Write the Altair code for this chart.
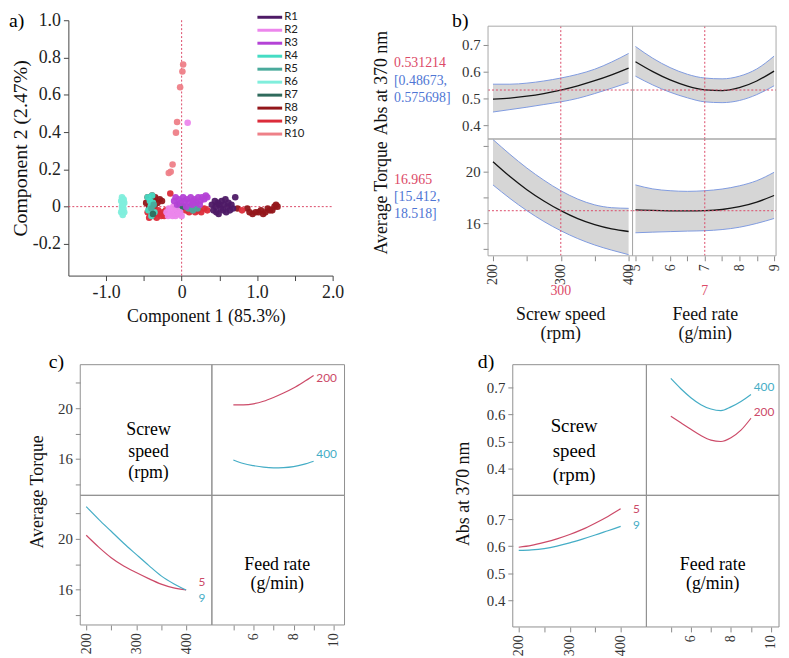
import altair as alt
import pandas as pd

SERIF = "Liberation Serif"
SANS = "Lato"
RED = "#dc4a68"
BLUE = "#4f76d4"
BAND_EDGE = "#7f9be0"
CURVE_RED = "#cc4a68"
CURVE_CYAN = "#45adc6"
FRAME_B = "#a8a8a8"
FRAME_CD = "#909090"
W, H = 781, 650

# ---------------- a) PCA scores ----------------
runs = ["R1", "R2", "R3", "R4", "R5", "R6", "R7", "R8", "R9", "R10"]
run_colors = ["#4e1a66", "#ec86ec", "#b442d6", "#45dcc4", "#4aaa9c", "#80eedc",
              "#2f6a5c", "#93161a", "#dc2c3a", "#ee8088"]
draw_order = ["R6", "R8", "R9", "R4", "R5", "R7", "R2", "R3", "R1", "R10"]

R1_pc1 = [0.40, 0.42, 0.44, 0.45, 0.46, 0.48, 0.49, 0.50, 0.52, 0.53, 0.55, 0.56, 0.58, 0.59, 0.61, 0.62, 0.64, 0.66, 0.68, 0.71]
R1_pc2 = [0.01, -0.02, 0.03, 0.00, -0.03, 0.02, -0.04, 0.01, -0.01, 0.03, -0.02, 0.01, 0.04, -0.03, 0.00, 0.02, -0.02, 0.01, -0.01, 0.05]
R2_pc1 = [-0.20, -0.18, -0.17, -0.15, -0.14, -0.12, -0.11, -0.09, -0.08, -0.06, -0.04, -0.02, 0.00, 0.08]
R2_pc2 = [-0.03, -0.05, -0.01, -0.04, -0.02, -0.05, 0.00, -0.03, -0.05, -0.02, -0.04, -0.03, -0.05, 0.45]
R3_pc1 = [-0.10, -0.08, -0.06, -0.04, -0.01, 0.02, 0.04, 0.07, 0.10, 0.12, 0.15, 0.17, 0.20, 0.22, 0.25, 0.27, 0.30, 0.32, 0.34, 0.06, 0.14, 0.24]
R3_pc2 = [0.03, 0.05, 0.01, 0.04, 0.02, 0.05, 0.03, 0.04, 0.02, 0.05, 0.03, 0.04, 0.02, 0.05, 0.03, 0.05, 0.04, 0.06, 0.05, 0.00, 0.01, 0.01]
R4_pc1 = [-0.45, -0.44, -0.42, -0.41, -0.40, -0.39, -0.38, -0.36]
R4_pc2 = [0.05, -0.02, 0.03, 0.00, -0.05, 0.06, 0.02, -0.03]
R5_pc1 = [-0.40, -0.37, -0.03, 0.09, 0.12, 0.15, 0.18, 0.21]
R5_pc2 = [-0.01, 0.01, -0.01, -0.01, 0.00, -0.02, 0.01, -0.01]
R6_pc1 = [-0.79, -0.77, -0.80, -0.76, -0.79, -0.77, -0.80, -0.76, -0.78, -0.77, -0.79, -0.78]
R6_pc2 = [0.05, 0.04, 0.03, 0.02, 0.00, -0.01, -0.03, -0.03, -0.045, 0.035, -0.02, 0.01]
R7_pc1 = [-0.08, -0.06, -0.05, -0.03, 0.02, -0.38]
R7_pc2 = [-0.01, -0.04, 0.01, -0.03, 0.00, -0.04]
R8_pc1 = [-0.47, -0.45, -0.43, -0.41, -0.39, -0.37, -0.35, -0.32, -0.29, -0.26, -0.43, -0.36,
          0.74, 0.87, 0.90, 0.94, 0.98, 1.02, 1.05, 1.08, 1.11, 1.14, 1.17, 1.20, 1.23, 1.25, 1.27]
R8_pc2 = [0.02, 0.05, -0.01, 0.04, 0.06, 0.03, 0.05, 0.02, 0.04, 0.03, 0.00, 0.00,
          -0.01, -0.01, -0.03, -0.04, -0.03, -0.03, -0.02, -0.04, -0.03, -0.01, -0.02, -0.02, 0.00, 0.01, 0.00]
R9_pc1 = [-0.45, -0.43, -0.41, -0.39, -0.37, -0.35, -0.33, -0.31, -0.29, -0.27, -0.25, -0.23, -0.21, -0.19, -0.15,
          0.05, 0.10, 0.14, 0.18, 0.22, 0.26, 0.30, 0.34, 0.80]
R9_pc2 = [-0.03, -0.06, -0.04, -0.01, -0.05, -0.03, -0.06, -0.02, -0.04, -0.05, -0.03, -0.05, -0.02, -0.04, 0.07,
          -0.02, -0.03, -0.01, -0.03, -0.02, -0.03, -0.01, -0.02, -0.02]
R10_pc1 = [0.02, 0.01, -0.02, -0.06, -0.075, -0.12, -0.145, -0.17]
R10_pc2 = [0.763, 0.725, 0.640, 0.454, 0.397, 0.226, 0.187, 0.180]

scores = {"R1": (R1_pc1, R1_pc2), "R2": (R2_pc1, R2_pc2), "R3": (R3_pc1, R3_pc2),
          "R4": (R4_pc1, R4_pc2), "R5": (R5_pc1, R5_pc2), "R6": (R6_pc1, R6_pc2),
          "R7": (R7_pc1, R7_pc2), "R8": (R8_pc1, R8_pc2), "R9": (R9_pc1, R9_pc2),
          "R10": (R10_pc1, R10_pc2)}

# ---------------- b) prediction profiler ----------------
speed_grid = [200, 225, 250, 275, 300, 325, 350, 375, 400]
feed_grid = [5.0, 5.5, 6.0, 6.5, 7.0, 7.5, 8.0, 8.5, 9.0]
speed_now, feed_now = 300, 7
abs_now, abs_ci = 0.531214, (0.48673, 0.575698)
tq_now, tq_ci = 16.965, (15.412, 18.518)

abs_speed_mean = [0.497, 0.501, 0.508, 0.518, 0.531, 0.547, 0.566, 0.588, 0.613]
abs_speed_lo = [0.449, 0.458, 0.467, 0.477, 0.487, 0.500, 0.518, 0.538, 0.559]
abs_speed_hi = [0.553, 0.553, 0.557, 0.565, 0.576, 0.590, 0.609, 0.636, 0.668]
abs_feed_mean = [0.637, 0.600, 0.569, 0.546, 0.532, 0.529, 0.540, 0.565, 0.602]
abs_feed_lo = [0.583, 0.550, 0.523, 0.502, 0.487, 0.484, 0.492, 0.514, 0.547]
abs_feed_hi = [0.694, 0.650, 0.615, 0.590, 0.576, 0.573, 0.583, 0.610, 0.658]
tq_speed_mean = [20.77, 19.62, 18.60, 17.72, 16.97, 16.35, 15.88, 15.55, 15.35]
tq_speed_lo = [18.97, 17.92, 16.97, 16.13, 15.41, 14.80, 14.30, 13.90, 13.55]
tq_speed_hi = [22.50, 21.35, 20.28, 19.34, 18.52, 17.87, 17.42, 17.20, 17.15]
tq_feed_mean = [17.03, 16.99, 16.96, 16.95, 16.97, 17.06, 17.28, 17.64, 18.15]
tq_feed_lo = [15.25, 15.30, 15.34, 15.38, 15.41, 15.50, 15.68, 15.98, 16.36]
tq_feed_hi = [18.97, 18.66, 18.52, 18.47, 18.52, 18.65, 18.90, 19.30, 19.95]

# ---------------- c) / d) interaction profiles ----------------
tq_feed_s200 = [20.26, 20.27, 20.35, 20.55, 20.85, 21.20, 21.60, 22.08, 22.60]
tq_feed_s400 = [15.90, 15.62, 15.45, 15.33, 15.28, 15.30, 15.38, 15.55, 15.80]
tq_speed_f5 = [20.29, 19.35, 18.51, 17.85, 17.33, 16.85, 16.42, 16.12, 15.95]
tq_speed_f9 = [22.56, 21.55, 20.60, 19.65, 18.77, 17.90, 17.07, 16.45, 15.95]
abs_feed_s400 = [0.733, 0.695, 0.662, 0.636, 0.620, 0.614, 0.628, 0.648, 0.674]
abs_feed_s200 = [0.593, 0.569, 0.545, 0.522, 0.505, 0.500, 0.514, 0.542, 0.586]
abs_speed_f5 = [0.596, 0.603, 0.614, 0.627, 0.643, 0.662, 0.685, 0.710, 0.738]
abs_speed_f9 = [0.584, 0.586, 0.591, 0.600, 0.612, 0.626, 0.641, 0.657, 0.673]

# ---------------- layout: (domain, pixel range) per panel axis ----------------
A_X = ((-1.5, 2.0), (61, 328))
A_Y = ((-0.37, 1.0), (267, 9))
LEG_X = ((0, 1), (252, 277))
LEG_Y = ((0, 9), (6, 124))
B_X1 = ((192.7, 405.8), (485, 631))
B_X2 = ((4.915, 9.057), (631, 776))
B_Y1 = ((0.348, 0.770), (129, 15))
B_Y2 = ((13.46, 22.54), (247, 129))
C_X1 = ((188.1, 451.5), (73, 206))
C_X2 = ((3.93, 10.54), (206, 340))
C_Y1 = ((13.1, 23.45), (489, 357))
C_Y2 = ((13.18, 23.45), (620, 489))
D_X1 = ((188.3, 450.5), (510, 645))
D_X2 = ((3.78, 10.4), (645, 779))
D_Y1 = ((0.301, 0.784), (489, 357))
D_Y2 = ((0.301, 0.788), (622, 489))


def S(spec):
    return alt.Scale(domain=list(spec[0]), range=list(spec[1]), nice=False, zero=False)


def inv(spec, px):
    (d0, d1), (r0, r1) = spec
    return d0 + (px - r0) * (d1 - d0) / (r1 - r0)


def XE(field, spec, axis=None):
    return alt.X(field, type="quantitative", scale=S(spec), axis=axis)


def YE(field, spec, axis=None):
    return alt.Y(field, type="quantitative", scale=S(spec), axis=axis)


def axis(orient, offset, values, expr, size=15, angle=0, title=None, tx=0, ty=0,
         tsize=18, domain=False, color="#333333", tick="#8a8a8a"):
    kw = dict(orient=orient, offset=offset, values=values, labelExpr=expr, grid=False,
              domain=domain, domainColor=tick, tickSize=5, tickColor=tick, labelFont=SERIF,
              labelFontSize=size, labelColor=color, labelPadding=3, labelFlush=False,
              labelOverlap=False)
    if angle:
        kw["labelAngle"] = angle
    if title is None:
        kw["title"] = None
    else:
        kw.update(title=title, titleX=tx, titleY=ty, titleFont=SERIF, titleFontSize=tsize,
                  titleFontWeight="normal", titleColor="#111111", titleLineHeight=20)
    return alt.Axis(**kw)


def frame(xs, ys, color, xaxis=None, yaxis=None):
    df = pd.DataFrame({"x0": [xs[0][0]], "x1": [xs[0][1]], "y0": [ys[0][0]], "y1": [ys[0][1]]})
    return alt.Chart(df).mark_rect(fillOpacity=0, stroke=color, strokeWidth=1).encode(
        x=XE("x0", xs, xaxis), x2="x1", y=YE("y0", ys, yaxis), y2="y1")


def note_at(txt, xs, ys, xv, yv, **mk):
    df = pd.DataFrame({"tx": [xv], "ty": [yv]})
    return alt.Chart(df).mark_text(text=txt, **mk).encode(x=XE("tx", xs), y=YE("ty", ys))


def pnote(txt, xs, ys, px, py, **mk):
    return note_at(txt, xs, ys, inv(xs, px), inv(ys, py), **mk)


def tag(txt, xs, ys, x, y, color):
    return note_at(txt, xs, ys, x, y, color=color, fontSize=12, font=SANS,
                   align="center", baseline="middle")


def vrule(xs, ys, xv):
    df = pd.DataFrame({"rx": [xv], "ry0": [ys[0][0]], "ry1": [ys[0][1]]})
    return alt.Chart(df).mark_rule(color=RED, strokeDash=[2, 2]).encode(
        x=XE("rx", xs), y=YE("ry0", ys), y2="ry1")


def hrule(xs, ys, yv):
    df = pd.DataFrame({"ry": [yv], "rx0": [xs[0][0]], "rx1": [xs[0][1]]})
    return alt.Chart(df).mark_rule(color=RED, strokeDash=[2, 2]).encode(
        y=YE("ry", ys), x=XE("rx0", xs), x2="rx1")


units = []

# ---------------- panel a ----------------
rows = []
for r in draw_order:
    xs_, ys_ = scores[r]
    for xv, yv in zip(xs_, ys_):
        rows.append({"run": r, "pc1": xv, "pc2": yv})
pts = pd.DataFrame(rows)

num_expr = "datum.value == 0 ? '0' : (datum.value < 0 ? '-' : '') + format(abs(datum.value), '.1f')"
a_xaxis = axis("bottom", A_Y[1][0] - H, [-1.0, -0.5, 0, 0.5, 1.0, 1.5, 2.0],
               "datum.value % 1 == 0 ? (" + num_expr + ") : ''", size=18, domain=True,
               color="#222222", tick="#444444", title="Component 1 (85.3%)", tx=200, ty=32, tsize=18)
a_yaxis = axis("left", -A_X[1][0], [-0.2, 0, 0.2, 0.4, 0.6, 0.8, 1.0], num_expr, size=18,
               domain=True, color="#222222", tick="#444444", title="Component 2 (2.47%)",
               tx=-38, ty=138, tsize=20)

units.append(vrule(A_X, A_Y, 0))
units.append(hrule(A_X, A_Y, 0))
units.append(alt.Chart(pts).mark_circle(size=44, opacity=0.95).encode(
    x=XE("pc1", A_X, a_xaxis), y=YE("pc2", A_Y, a_yaxis),
    color=alt.Color("run:N", scale=alt.Scale(domain=runs, range=run_colors), legend=None)))
units.append(pnote("a)", A_X, A_Y, 1, 10, font=SERIF, fontSize=20, align="left", baseline="middle"))

leg = pd.DataFrame({"run": runs, "idx": list(range(len(runs))), "x0": 0, "x1": 1})
units.append(alt.Chart(leg).mark_rule(strokeWidth=3).encode(
    x=XE("x0", LEG_X), x2="x1", y=YE("idx", LEG_Y),
    color=alt.Color("run:N", scale=alt.Scale(domain=runs, range=run_colors), legend=None)))
units.append(alt.Chart(leg).mark_text(align="left", baseline="middle", dx=2, font=SANS,
                                      fontSize=11.5, color="#222222").encode(
    x=XE("x1", LEG_X), y=YE("idx", LEG_Y), text="run:N"))

# ---------------- panel b ----------------
bs = pd.DataFrame({"speed": speed_grid, "abs_mean": abs_speed_mean, "abs_lo": abs_speed_lo,
                   "abs_hi": abs_speed_hi, "tq_mean": tq_speed_mean, "tq_lo": tq_speed_lo,
                   "tq_hi": tq_speed_hi})
bf = pd.DataFrame({"feed": feed_grid, "abs_mean": abs_feed_mean, "abs_lo": abs_feed_lo,
                   "abs_hi": abs_feed_hi, "tq_mean": tq_feed_mean, "tq_lo": tq_feed_lo,
                   "tq_hi": tq_feed_hi})


def prof_cell(df, xf, mean, lo, hi, xs, ys, xnow, ynow, xaxis=None, yaxis=None):
    out = [alt.Chart(df).mark_area(color="#d6d6d6", interpolate="monotone").encode(
        x=XE(xf, xs), y=YE(hi, ys), y2=lo)]
    for f in (hi, lo):
        out.append(alt.Chart(df).mark_line(color=BAND_EDGE, strokeWidth=1, interpolate="monotone").encode(
            x=XE(xf, xs), y=YE(f, ys)))
    out.append(alt.Chart(df).mark_line(color="#151515", strokeWidth=1.3, interpolate="monotone").encode(
        x=XE(xf, xs), y=YE(mean, ys)))
    out.append(vrule(xs, ys, xnow))
    out.append(hrule(xs, ys, ynow))
    out.append(frame(xs, ys, FRAME_B, xaxis, yaxis))
    return out


tq_expr = "datum.value % 4 == 0 ? datum.label : ''"
b_y1 = axis("left", -B_X1[1][0], [0.4, 0.5, 0.6, 0.7], "format(datum.value, '.1f')",
            title="Abs at 370 nm", tx=-99, ty=72)
b_y2 = axis("left", -B_X1[1][0], [14, 16, 18, 20, 22], tq_expr,
            title="Average Torque", tx=-99, ty=188)
b_x1 = axis("bottom", B_Y2[1][0] - H, [200, 250, 300, 350, 400],
            "datum.value % 100 == 0 ? format(datum.value, 'd') : ''", size=14, angle=270,
            title=["Screw speed", "(rpm)"], tx=558, ty=50)
b_x2 = axis("bottom", B_Y2[1][0] - H, [5, 5.5, 6, 6.5, 7, 7.5, 8, 8.5, 9],
            "datum.value % 1 == 0 ? format(datum.value, 'd') : ''", size=14, angle=270,
            title=["Feed rate", "(g/min)"], tx=704, ty=50)

units += prof_cell(bs, "speed", "abs_mean", "abs_lo", "abs_hi", B_X1, B_Y1, speed_now, abs_now, yaxis=b_y1)
units += prof_cell(bf, "feed", "abs_mean", "abs_lo", "abs_hi", B_X2, B_Y1, feed_now, abs_now)
units += prof_cell(bs, "speed", "tq_mean", "tq_lo", "tq_hi", B_X1, B_Y2, speed_now, tq_now,
                   xaxis=b_x1, yaxis=b_y2)
units += prof_cell(bf, "feed", "tq_mean", "tq_lo", "tq_hi", B_X2, B_Y2, feed_now, tq_now, xaxis=b_x2)

nk = dict(font=SERIF, fontSize=14, align="left", baseline="middle")
units += [
    pnote(f"{abs_now}", B_X1, B_Y1, 390, 52, color=RED, **nk),
    pnote(f"[{abs_ci[0]},", B_X1, B_Y1, 390, 70, color=BLUE, **nk),
    pnote(f"{abs_ci[1]}]", B_X1, B_Y1, 390, 88, color=BLUE, **nk),
    pnote("b)", B_X1, B_Y1, 457, 10, font=SERIF, fontSize=20, align="center", baseline="middle"),
    pnote(f"{tq_now}", B_X1, B_Y2, 390, 170, color=RED, **nk),
    pnote(f"[{tq_ci[0]},", B_X1, B_Y2, 390, 188, color=BLUE, **nk),
    pnote(f"{tq_ci[1]}]", B_X1, B_Y2, 390, 205, color=BLUE, **nk),
    note_at(f"{speed_now}", B_X1, B_Y2, speed_now, inv(B_Y2, 283), color=RED, font=SERIF,
            fontSize=14, align="center", baseline="middle"),
    note_at(f"{feed_now}", B_X2, B_Y2, feed_now, inv(B_Y2, 283), color=RED, font=SERIF,
            fontSize=14, align="center", baseline="middle"),
]

# ---------------- panels c and d ----------------
cs = pd.DataFrame({"speed": speed_grid, "f5": tq_speed_f5, "f9": tq_speed_f9})
cf = pd.DataFrame({"feed": feed_grid, "s200": tq_feed_s200, "s400": tq_feed_s400})
ds = pd.DataFrame({"speed": speed_grid, "f5": abs_speed_f5, "f9": abs_speed_f9})
dfd = pd.DataFrame({"feed": feed_grid, "s200": abs_feed_s200, "s400": abs_feed_s400})


def curve(df, xf, yf, col, xs, ys):
    return alt.Chart(df).mark_line(color=col, strokeWidth=1.2, interpolate="monotone").encode(
        x=XE(xf, xs), y=YE(yf, ys))


speed_axis_vals = [200, 250, 300, 350, 400]
speed_axis_expr = "datum.value % 100 == 0 ? format(datum.value, 'd') : ''"
feed_axis_vals = [5, 6, 7, 8, 9, 10]
feed_axis_expr = "datum.value % 2 == 0 ? format(datum.value, 'd') : ''"
abs_vals = [0.4, 0.5, 0.6, 0.7]
abs_expr = "format(datum.value, '.1f')"
tq_vals = [14, 16, 18, 20, 22]

units += [
    # c) top-left
    frame(C_X1, C_Y1, FRAME_CD, yaxis=axis("left", -C_X1[1][0], tq_vals, tq_expr)),
    pnote(["Screw", "speed", "(rpm)"], C_X1, C_Y1, 142, 423, font=SERIF, fontSize=18,
          lineHeight=22, align="center", baseline="middle"),
    pnote("c)", C_X1, C_Y1, 49, 354, font=SERIF, fontSize=20, align="center", baseline="middle"),
    # c) top-right
    curve(cf, "feed", "s200", CURVE_RED, C_X2, C_Y1),
    curve(cf, "feed", "s400", CURVE_CYAN, C_X2, C_Y1),
    tag("200", C_X2, C_Y1, 9.65, 22.43, CURVE_RED),
    tag("400", C_X2, C_Y1, 9.65, 16.4, CURVE_CYAN),
    frame(C_X2, C_Y1, FRAME_CD),
    # c) bottom-left
    curve(cs, "speed", "f5", CURVE_RED, C_X1, C_Y2),
    curve(cs, "speed", "f9", CURVE_CYAN, C_X1, C_Y2),
    tag("5", C_X1, C_Y2, 431.7, 16.55, CURVE_RED),
    tag("9", C_X1, C_Y2, 431.7, 15.3, CURVE_CYAN),
    frame(C_X1, C_Y2, FRAME_CD,
          xaxis=axis("bottom", C_Y2[1][0] - H, speed_axis_vals, speed_axis_expr, size=14, angle=270),
          yaxis=axis("left", -C_X1[1][0], tq_vals, tq_expr, title="Average Torque", tx=-34, ty=485)),
    # c) bottom-right
    pnote(["Feed rate", "(g/min)"], C_X2, C_Y2, 272, 559, font=SERIF, fontSize=18,
          lineHeight=20, align="center", baseline="middle"),
    frame(C_X2, C_Y2, FRAME_CD,
          xaxis=axis("bottom", C_Y2[1][0] - H, feed_axis_vals, feed_axis_expr, size=14, angle=270)),
    # d) top-left
    frame(D_X1, D_Y1, FRAME_CD, yaxis=axis("left", -D_X1[1][0], abs_vals, abs_expr)),
    pnote(["Screw", "speed", "(rpm)"], D_X1, D_Y1, 572, 419, font=SERIF, fontSize=19,
          lineHeight=25, align="center", baseline="middle"),
    pnote("d)", D_X1, D_Y1, 483, 354, font=SERIF, fontSize=20, align="center", baseline="middle"),
    # d) top-right
    curve(dfd, "feed", "s400", CURVE_CYAN, D_X2, D_Y1),
    curve(dfd, "feed", "s200", CURVE_RED, D_X2, D_Y1),
    tag("400", D_X2, D_Y1, 9.65, 0.70, CURVE_CYAN),
    tag("200", D_X2, D_Y1, 9.65, 0.608, CURVE_RED),
    frame(D_X2, D_Y1, FRAME_CD),
    # d) bottom-left
    curve(ds, "speed", "f5", CURVE_RED, D_X1, D_Y2),
    curve(ds, "speed", "f9", CURVE_CYAN, D_X1, D_Y2),
    tag("5", D_X1, D_Y2, 431, 0.737, CURVE_RED),
    tag("9", D_X1, D_Y2, 431, 0.678, CURVE_CYAN),
    frame(D_X1, D_Y2, FRAME_CD,
          xaxis=axis("bottom", D_Y2[1][0] - H, speed_axis_vals, speed_axis_expr, size=14, angle=270),
          yaxis=axis("left", -D_X1[1][0], abs_vals, abs_expr, title="Abs at 370 nm", tx=-41, ty=487)),
    # d) bottom-right
    pnote(["Feed rate", "(g/min)"], D_X2, D_Y2, 712, 559, font=SERIF, fontSize=18,
          lineHeight=20, align="center", baseline="middle"),
    frame(D_X2, D_Y2, FRAME_CD,
          xaxis=axis("bottom", D_Y2[1][0] - H, feed_axis_vals, feed_axis_expr, size=14, angle=270)),
]

chart = alt.layer(*units).resolve_scale(
    x="independent", y="independent", color="independent"
).properties(
    width=W, height=H, autosize=alt.AutoSizeParams(type="none"), padding=0
).configure(font=SERIF).configure_view(strokeWidth=0)

chart.save("out.html", embed_options={"renderer": "svg", "actions": False})
